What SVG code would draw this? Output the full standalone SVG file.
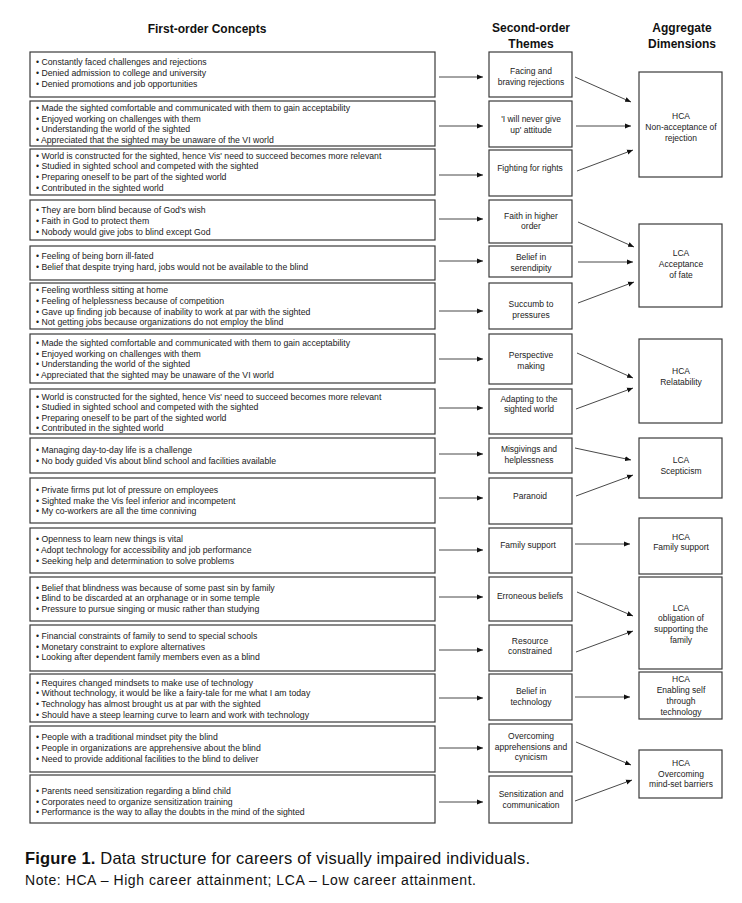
<svg xmlns="http://www.w3.org/2000/svg" width="742" height="903" viewBox="0 0 742 903">
<defs>
<style>
.bx{fill:#fff;stroke:#3a3a3a;stroke-width:1.2}
.t{font-family:"Liberation Sans",Arial,sans-serif;font-size:8.7px;fill:#222}
.c{font-family:"Liberation Sans",Arial,sans-serif;font-size:8.5px;fill:#222;text-anchor:middle}
.h{font-family:"Liberation Sans",Arial,sans-serif;font-size:12px;font-weight:bold;fill:#111;text-anchor:middle}
.ln{stroke:#333;stroke-width:0.9;fill:none;marker-end:url(#ah)}
.cap{font-family:"Liberation Sans",Arial,sans-serif;fill:#111}
</style>
<marker id="ah" markerUnits="userSpaceOnUse" markerWidth="7" markerHeight="6" refX="6" refY="3" orient="auto">
<path d="M0,0.5 L6,3 L0,5.5 Z" fill="#111"/>
</marker>
</defs>
<rect width="742" height="903" fill="#fff"/>

<g id="headers">
<text class="h" x="207" y="33">First-order Concepts</text>
<text class="h" x="531" y="32">Second-order</text>
<text class="h" x="531" y="48">Themes</text>
<text class="h" x="682" y="32">Aggregate</text>
<text class="h" x="682" y="48">Dimensions</text>
</g>

<g id="first-order">
<g id="L1"><rect class="bx" x="30" y="52" width="405" height="45"/>
<text class="t" x="36" y="65">• Constantly faced challenges and rejections</text>
<text class="t" x="36" y="76">• Denied admission to college and university</text>
<text class="t" x="36" y="87">• Denied promotions and job opportunities</text></g>
<g id="L2"><rect class="bx" x="30" y="101" width="405" height="45"/>
<text class="t" x="36" y="111">• Made the sighted comfortable and communicated with them to gain acceptability</text>
<text class="t" x="36" y="122">• Enjoyed working on challenges with them</text>
<text class="t" x="36" y="132">• Understanding the world of the sighted</text>
<text class="t" x="36" y="143">• Appreciated that the sighted may be unaware of the VI world</text></g>
<g id="L3"><rect class="bx" x="30" y="149" width="405" height="46"/>
<text class="t" x="36" y="159">• World is constructed for the sighted, hence Vis' need to succeed becomes more relevant</text>
<text class="t" x="36" y="169">• Studied in sighted school and competed with the sighted</text>
<text class="t" x="36" y="180">• Preparing oneself to be part of the sighted world</text>
<text class="t" x="36" y="191">• Contributed in the sighted world</text></g>
<g id="L4"><rect class="bx" x="30" y="200" width="405" height="40"/>
<text class="t" x="36" y="213">• They are born blind because of God's wish</text>
<text class="t" x="36" y="224">• Faith in God to protect them</text>
<text class="t" x="36" y="235">• Nobody would give jobs to blind except God</text></g>
<g id="L5"><rect class="bx" x="30" y="246" width="405" height="34"/>
<text class="t" x="36" y="259">• Feeling of being born ill-fated</text>
<text class="t" x="36" y="270">• Belief that despite trying hard, jobs would not be available to the blind</text></g>
<g id="L6"><rect class="bx" x="30" y="283" width="405" height="46"/>
<text class="t" x="36" y="293">• Feeling worthless sitting at home</text>
<text class="t" x="36" y="304">• Feeling of helplessness because of competition</text>
<text class="t" x="36" y="315">• Gave up finding job because of inability to work at par with the sighted</text>
<text class="t" x="36" y="325">• Not getting jobs because organizations do not employ the blind</text></g>
<g id="L7"><rect class="bx" x="30" y="334" width="405" height="49"/>
<text class="t" x="36" y="346">• Made the sighted comfortable and communicated with them to gain acceptability</text>
<text class="t" x="36" y="357">• Enjoyed working on challenges with them</text>
<text class="t" x="36" y="367">• Understanding the world of the sighted</text>
<text class="t" x="36" y="378">• Appreciated that the sighted may be unaware of the VI world</text></g>
<g id="L8"><rect class="bx" x="30" y="389" width="405" height="45"/>
<text class="t" x="36" y="400">• World is constructed for the sighted, hence Vis' need to succeed becomes more relevant</text>
<text class="t" x="36" y="410">• Studied in sighted school and competed with the sighted</text>
<text class="t" x="36" y="421">• Preparing oneself to be part of the sighted world</text>
<text class="t" x="36" y="431">• Contributed in the sighted world</text></g>
<g id="L9"><rect class="bx" x="30" y="438" width="405" height="35"/>
<text class="t" x="36" y="453">• Managing day-to-day life is a challenge</text>
<text class="t" x="36" y="464">• No body guided Vis about blind school and facilities available</text></g>
<g id="L10"><rect class="bx" x="30" y="478" width="405" height="45"/>
<text class="t" x="36" y="493">• Private firms put lot of pressure on employees</text>
<text class="t" x="36" y="504">• Sighted make the Vis feel inferior and incompetent</text>
<text class="t" x="36" y="514">• My co-workers are all the time conniving</text></g>
<g id="L11"><rect class="bx" x="30" y="528" width="405" height="45"/>
<text class="t" x="36" y="542">• Openness to learn new things is vital</text>
<text class="t" x="36" y="553">• Adopt technology for accessibility and job performance</text>
<text class="t" x="36" y="564">• Seeking help and determination to solve problems</text></g>
<g id="L12"><rect class="bx" x="30" y="577" width="405" height="44"/>
<text class="t" x="36" y="591">• Belief that blindness was because of some past sin by family</text>
<text class="t" x="36" y="601">• Blind to be discarded at an orphanage or in some temple</text>
<text class="t" x="36" y="612">• Pressure to pursue singing or music rather than studying</text></g>
<g id="L13"><rect class="bx" x="30" y="625" width="405" height="46"/>
<text class="t" x="36" y="639">• Financial constraints of family to send to special schools</text>
<text class="t" x="36" y="650">• Monetary constraint to explore alternatives</text>
<text class="t" x="36" y="660">• Looking after dependent family members even as a blind</text></g>
<g id="L14"><rect class="bx" x="30" y="674" width="405" height="48"/>
<text class="t" x="36" y="686">• Requires changed mindsets to make use of technology</text>
<text class="t" x="36" y="696">• Without technology, it would be like a fairy-tale for me what I am today</text>
<text class="t" x="36" y="707">• Technology has almost brought us at par with the sighted</text>
<text class="t" x="36" y="718">• Should have a steep learning curve to learn and work with technology</text></g>
<g id="L15"><rect class="bx" x="30" y="726" width="405" height="46"/>
<text class="t" x="36" y="740">• People with a traditional mindset pity the blind</text>
<text class="t" x="36" y="751">• People in organizations are apprehensive about the blind</text>
<text class="t" x="36" y="762">• Need to provide additional facilities to the blind to deliver</text></g>
<g id="L16"><rect class="bx" x="30" y="775" width="405" height="48"/>
<text class="t" x="36" y="794">• Parents need sensitization regarding a blind child</text>
<text class="t" x="36" y="805">• Corporates need to organize sensitization training</text>
<text class="t" x="36" y="815">• Performance is the way to allay the doubts in the mind of the sighted</text></g>
</g>

<g id="second-order">
<g id="M1"><rect class="bx" x="489" y="52" width="83" height="45"/>
<text class="c" x="531" y="74">Facing and</text><text class="c" x="531" y="85">braving rejections</text></g>
<g id="M2"><rect class="bx" x="489" y="101" width="83" height="46"/>
<text class="c" x="531" y="122">'I will never give</text><text class="c" x="531" y="133">up' attitude</text></g>
<g id="M3"><rect class="bx" x="489" y="150" width="83" height="46"/>
<text class="c" x="530" y="171">Fighting for rights</text></g>
<g id="M4"><rect class="bx" x="489" y="200" width="83" height="43"/>
<text class="c" x="531" y="219">Faith in higher</text><text class="c" x="531" y="229">order</text></g>
<g id="M5"><rect class="bx" x="489" y="246" width="83" height="31"/>
<text class="c" x="531" y="260">Belief in</text><text class="c" x="531" y="271">serendipity</text></g>
<g id="M6"><rect class="bx" x="489" y="283" width="83" height="46"/>
<text class="c" x="531" y="307">Succumb to</text><text class="c" x="531" y="318">pressures</text></g>
<g id="M7"><rect class="bx" x="489" y="334" width="83" height="50"/>
<text class="c" x="531" y="358">Perspective</text><text class="c" x="531" y="369">making</text></g>
<g id="M8"><rect class="bx" x="489" y="389" width="83" height="45"/>
<text class="c" x="529" y="402">Adapting to the</text><text class="c" x="529" y="412">sighted world</text></g>
<g id="M9"><rect class="bx" x="489" y="438" width="83" height="35"/>
<text class="c" x="529" y="452">Misgivings and</text><text class="c" x="529" y="463">helplessness</text></g>
<g id="M10"><rect class="bx" x="489" y="478" width="83" height="46"/>
<text class="c" x="530" y="499">Paranoid</text></g>
<g id="M11"><rect class="bx" x="489" y="528" width="83" height="45"/>
<text class="c" x="528" y="548">Family support</text></g>
<g id="M12"><rect class="bx" x="489" y="577" width="83" height="44"/>
<text class="c" x="530" y="599">Erroneous beliefs</text></g>
<g id="M13"><rect class="bx" x="489" y="625" width="83" height="46"/>
<text class="c" x="530" y="644">Resource</text><text class="c" x="530" y="654">constrained</text></g>
<g id="M14"><rect class="bx" x="489" y="674" width="83" height="46"/>
<text class="c" x="531" y="694">Belief in</text><text class="c" x="531" y="705">technology</text></g>
<g id="M15"><rect class="bx" x="489" y="724" width="83" height="48"/>
<text class="c" x="531" y="739">Overcoming</text><text class="c" x="531" y="750">apprehensions and</text><text class="c" x="531" y="760">cynicism</text></g>
<g id="M16"><rect class="bx" x="489" y="776" width="83" height="47"/>
<text class="c" x="531" y="797">Sensitization and</text><text class="c" x="531" y="808">communication</text></g>
</g>

<g id="aggregate">
<g id="R1"><rect class="bx" x="639" y="72" width="83" height="105"/>
<text class="c" x="681" y="119">HCA</text><text class="c" x="681" y="130">Non-acceptance of</text><text class="c" x="681" y="141">rejection</text></g>
<g id="R2"><rect class="bx" x="639" y="224" width="83" height="83"/>
<text class="c" x="681" y="256">LCA</text><text class="c" x="681" y="267">Acceptance</text><text class="c" x="681" y="278">of fate</text></g>
<g id="R3"><rect class="bx" x="639" y="339" width="83" height="84"/>
<text class="c" x="681" y="374">HCA</text><text class="c" x="681" y="385">Relatability</text></g>
<g id="R4"><rect class="bx" x="639" y="438" width="83" height="60"/>
<text class="c" x="681" y="463">LCA</text><text class="c" x="681" y="474">Scepticism</text></g>
<g id="R5"><rect class="bx" x="639" y="518" width="83" height="56"/>
<text class="c" x="681" y="540">HCA</text><text class="c" x="681" y="550">Family support</text></g>
<g id="R6"><rect class="bx" x="639" y="577" width="83" height="92"/>
<text class="c" x="681" y="611">LCA</text><text class="c" x="681" y="621">obligation of</text><text class="c" x="681" y="632">supporting the</text><text class="c" x="681" y="643">family</text></g>
<g id="R7"><rect class="bx" x="639" y="672" width="83" height="47"/>
<text class="c" x="681" y="682">HCA</text><text class="c" x="681" y="693">Enabling self</text><text class="c" x="681" y="704">through</text><text class="c" x="681" y="715">technology</text></g>
<g id="R8"><rect class="bx" x="639" y="750" width="83" height="48"/>
<text class="c" x="681" y="766">HCA</text><text class="c" x="681" y="777">Overcoming</text><text class="c" x="681" y="787">mind-set barriers</text></g>
</g>

<g id="connectors">
<line class="ln" x1="439" y1="77" x2="483" y2="77"/>
<line class="ln" x1="439" y1="126" x2="483" y2="126"/>
<line class="ln" x1="439" y1="175" x2="483" y2="175"/>
<line class="ln" x1="439" y1="219" x2="483" y2="219"/>
<line class="ln" x1="439" y1="261" x2="483" y2="261"/>
<line class="ln" x1="439" y1="311" x2="483" y2="311"/>
<line class="ln" x1="439" y1="359" x2="483" y2="359"/>
<line class="ln" x1="439" y1="408" x2="483" y2="408"/>
<line class="ln" x1="439" y1="454" x2="483" y2="454"/>
<line class="ln" x1="439" y1="498" x2="483" y2="498"/>
<line class="ln" x1="439" y1="550" x2="483" y2="550"/>
<line class="ln" x1="439" y1="597" x2="483" y2="597"/>
<line class="ln" x1="439" y1="650" x2="483" y2="650"/>
<line class="ln" x1="439" y1="698" x2="483" y2="698"/>
<line class="ln" x1="439" y1="748" x2="483" y2="748"/>
<line class="ln" x1="439" y1="802" x2="483" y2="802"/>

<line class="ln" x1="575" y1="77" x2="631" y2="102"/>
<line class="ln" x1="576" y1="126" x2="631" y2="126"/>
<line class="ln" x1="577" y1="171" x2="633" y2="150"/>
<line class="ln" x1="578" y1="222" x2="634" y2="247"/>
<line class="ln" x1="578" y1="262" x2="633" y2="262"/>
<line class="ln" x1="578" y1="303" x2="634" y2="282"/>
<line class="ln" x1="577" y1="353" x2="633" y2="378"/>
<line class="ln" x1="576" y1="409" x2="633" y2="388"/>
<line class="ln" x1="575" y1="448" x2="631" y2="460"/>
<line class="ln" x1="576" y1="496" x2="633" y2="475"/>
<line class="ln" x1="575" y1="544" x2="630" y2="544"/>
<line class="ln" x1="577" y1="592" x2="633" y2="616"/>
<line class="ln" x1="576" y1="652" x2="633" y2="631"/>
<line class="ln" x1="575" y1="697" x2="630" y2="697"/>
<line class="ln" x1="576" y1="742" x2="631" y2="765"/>
<line class="ln" x1="575" y1="801" x2="632" y2="780"/>
</g>

<g id="caption">
<text class="cap" x="25" y="864" font-size="16.5" textLength="505" lengthAdjust="spacing"><tspan font-weight="bold">Figure 1.</tspan>  Data structure for careers of visually impaired individuals.</text>
<text class="cap" x="25" y="885" font-size="14" textLength="451" lengthAdjust="spacing">Note: HCA – High career attainment; LCA – Low career attainment.</text>
</g>
</svg>
